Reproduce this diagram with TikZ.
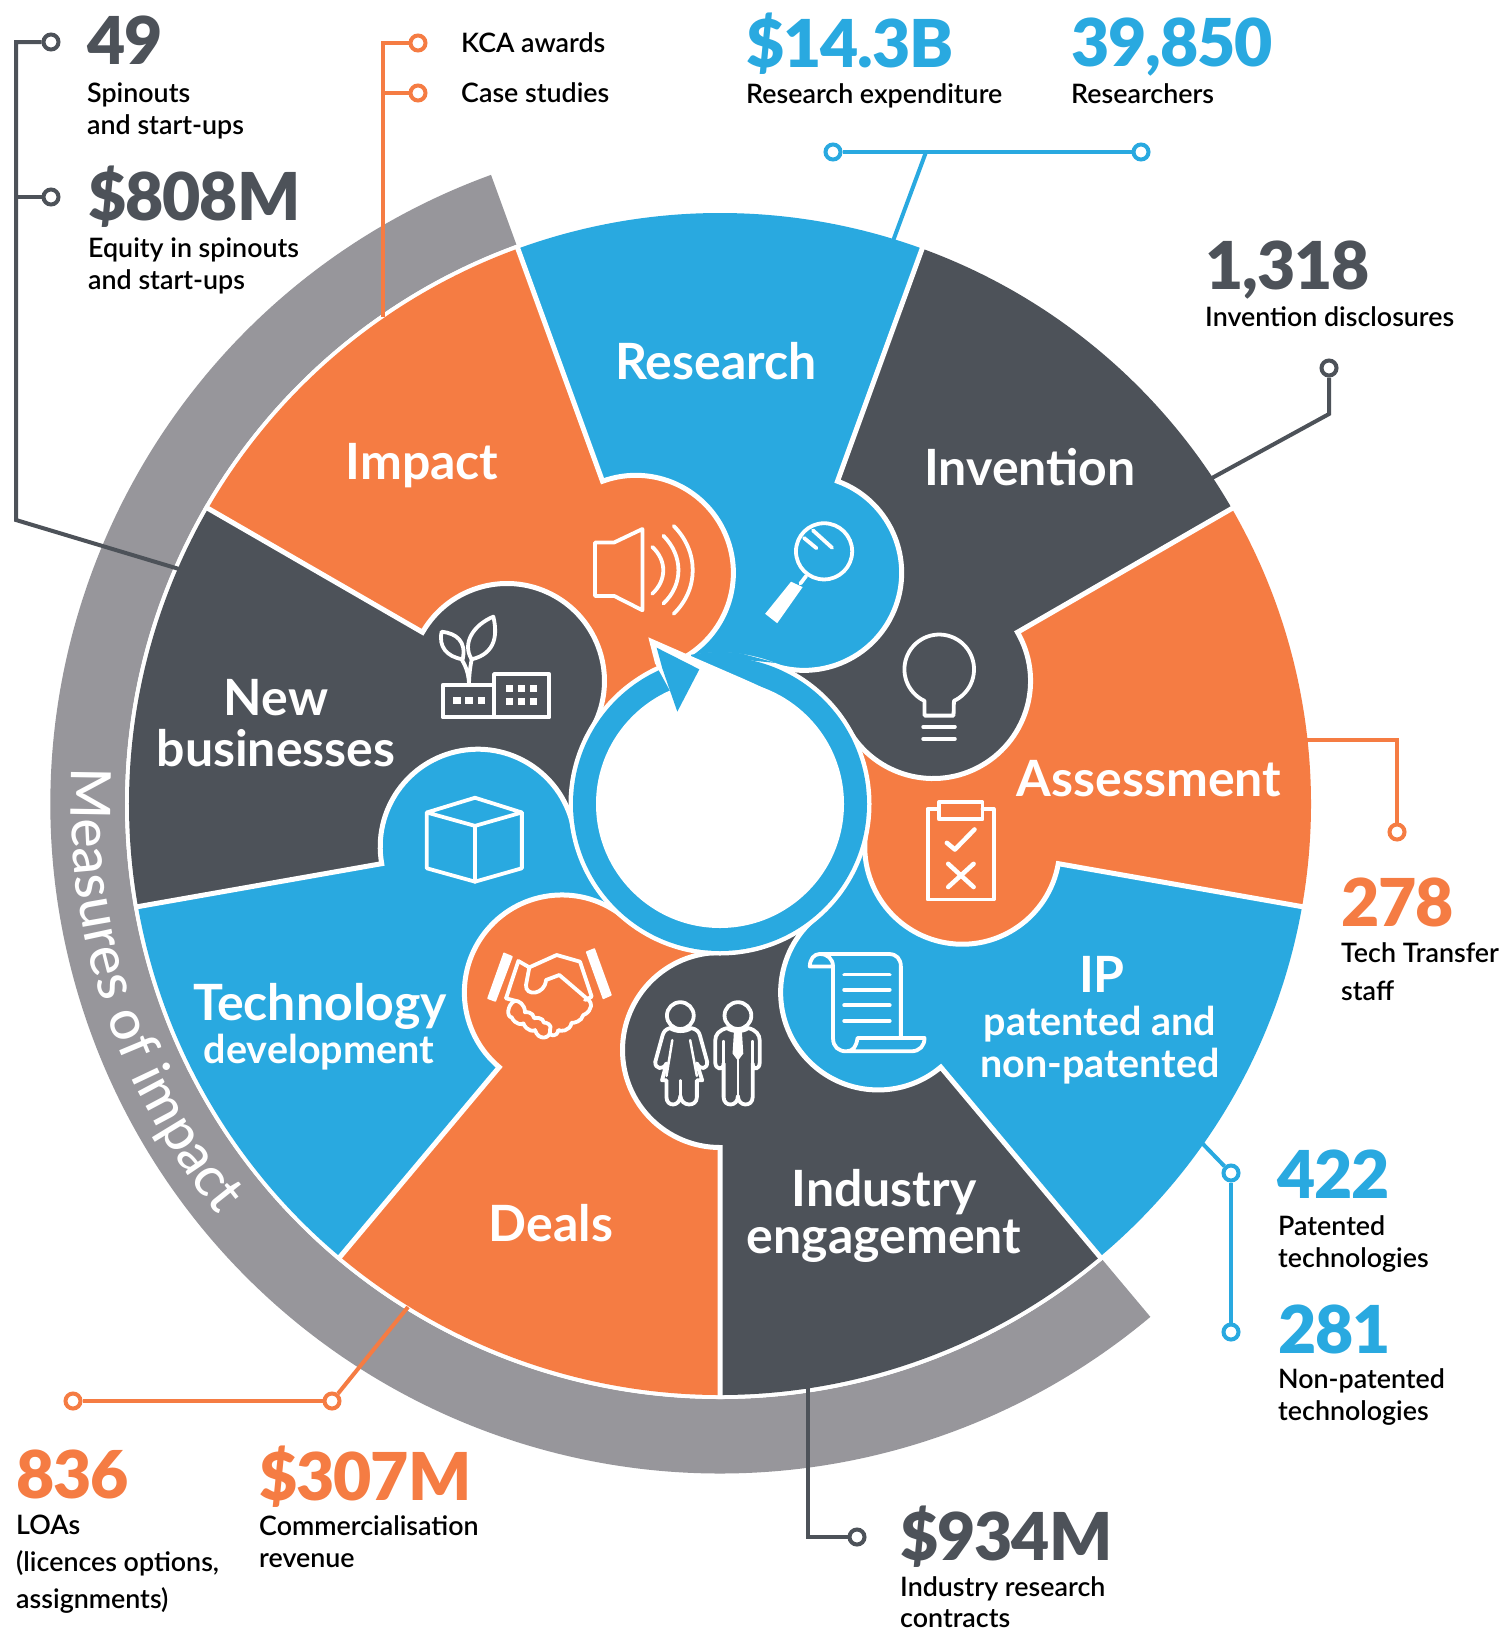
\documentclass[tikz,border=0pt]{standalone}
\usepackage{fontspec}
\setmainfont{Lato}
\newfontfamily\fblack[LetterSpace=-1.6]{Lato Black}
\newfontfamily\fmed{Lato Medium}
\newfontfamily\fsemi{Lato Semibold}
\newfontfamily\fbold{Lato Bold}
\usetikzlibrary{decorations.text}
\definecolor{cblue}{HTML}{29A9E0}
\definecolor{corange}{HTML}{F57C43}
\definecolor{cdark}{HTML}{4D5259}
\definecolor{cgray}{HTML}{97969B}
\newcommand\blk[3][l]{{\def\arraystretch{#2}\begin{tabular}[t]{@{}#1@{}}#3\end{tabular}}}
\tikzset{
  num/.style={anchor=base west,inner sep=0pt,font=\fblack\fontsize{66}{70}\selectfont},
  small/.style={anchor=base west,inner sep=0pt,text=black,font=\fsemi\fontsize{26.8}{30}\selectfont},
  big/.style={anchor=base,inner sep=0pt,text=white,font=\fbold\fontsize{50}{50}\selectfont},
  mid/.style={anchor=base,inner sep=0pt,text=white,font=\fbold\fontsize{39.5}{40}\selectfont},
  dot/.style={circle,draw=#1,fill=white,line width=4pt,minimum size=15pt,inner sep=0pt},
  conn/.style={draw=#1,line width=4pt,line join=miter},
  icon/.style={draw=white,line width=3.8pt,line join=round,line cap=round},
  iconb/.style={fill=white,draw=none}
}
\begin{document}
\begin{tikzpicture}[x=1pt,y=-1pt]
\useasboundingbox (0,0) rectangle (1502,1630);
\fill[white] (0,0) rectangle (1502,1630);
% ---------- wheel
\begin{scope}[shift={(720,804)},x=1pt,y=1pt]
  \fill[cgray] (110:669.5) arc[start angle=110,end angle=310,radius=669.5] -- (310:595) arc[start angle=310,end angle=110,radius=595] -- cycle;
  \fill[white] (0,0) circle[radius=595];
  \foreach \th/\col in {70/cblue,30/cdark,-10/corange,-50/cblue,-90/cdark,-130/corange,-170/cblue,150/cdark,110/corange}{
    \fill[\col] (0,0) -- (\th:591) arc[start angle=\th,delta angle=40,radius=591] -- cycle;
  }
  \foreach \th/\col in {70/cblue,30/cdark,-10/corange,-50/cblue,-90/cdark,-130/corange,-170/cblue,150/cdark,110/corange}{
    \fill[\col] (\th:345) arc[start angle=\th,delta angle=-180,radius=99] -- ({\th+2}:147) -- ({\th+1}:345) -- cycle;
    \draw[white,line width=5pt,line join=miter] (\th:595) -- (\th:343.5) arc[start angle=\th,delta angle=-180,radius=97.5];
  }
  \fill[white] (0,0) circle[radius=151.5];
  \fill[cblue] (82:146) arc[start angle=82,end angle=101,radius=146] -- (101:152) arc[start angle=101,end angle=82,radius=152] -- (68:152) -- cycle;
  \fill[cblue] (0,0) circle[radius=147];
  \fill[white] (0,0) circle[radius=124];
  % curved title on the grey band
  \path[decorate,decoration={text along path,text color=white,text align=left,
    text={|\fmed\fontsize{55.5}{56}\selectfont|Measures of impact}}]
    (176.8:649) arc[start angle=176.8,end angle=232,radius=649];
\end{scope}
% ---------- arrow
\begin{scope}[shift={(600,600)},x=0.3333pt,y=-0.3333pt]
  \fill[white] (165,190) -- (145,112) -- (275,169) -- (420,232) .. controls (470,254) and (510,272) .. (552,296) -- (360,612) -- (210,272) -- cycle;
  \fill[cblue] (170,143) -- (298,208) -- (232,335) -- (210,272) -- (187,205) -- cycle;
\end{scope}
% ---------- icons (first group in 700px crop coordinates)
\begin{scope}[shift={(400,500)},x=0.4464pt,y=-0.4464pt]
  % speaker
  \draw[icon] (437,95) -- (480,95) -- (543,65) -- (543,247) -- (480,215) -- (437,215) -- cycle;
  \draw[icon] (565,105) .. controls (598,135) and (598,180) .. (565,210);
  \draw[icon] (590,80) .. controls (635,125) and (635,190) .. (590,232);
  \draw[icon] (613,58) .. controls (670,115) and (670,200) .. (613,255);
  % magnifier
  \draw[icon] (950,115) circle[radius=28.1pt];
  \draw[icon] (905,85) -- (933,108);
  \draw[icon] (925,68) -- (968,107);
  \draw[icon] (910,170) -- (897,187);
  \fill[iconb] (876,183) -- (902,195) -- (845,276) -- (818,255) -- cycle;
  % bulb
  \draw[icon] (1175,483) -- (1175,450) arc[start angle=245,delta angle=-310,radius=34.8pt] -- (1240,483) -- cycle;
  \draw[icon] (1172,508) -- (1243,508);
  \draw[icon] (1172,535) -- (1243,535);
  % clipboard
  \draw[icon] (1207,692) -- (1182,692) -- (1182,895) -- (1330,895) -- (1330,692) -- (1305,692);
  \draw[icon] (1207,677) rectangle (1305,715);
  \draw[icon,line width=4.5pt] (1225,768) -- (1243,783) -- (1287,738);
  \draw[icon,line width=4.5pt] (1228,815) -- (1285,867) (1285,815) -- (1228,867);
  % scroll
  \draw[icon] (940,1017) -- (1095,1017) .. controls (1112,1017) and (1122,1028) .. (1122,1045) -- (1122,1205);
  \draw[icon] (918,1045) .. controls (918,1028) and (928,1017) .. (940,1017) .. controls (958,1017) and (970,1028) .. (970,1045) -- cycle;
  \draw[icon] (970,1045) -- (970,1205) .. controls (970,1225) and (982,1235) .. (1000,1235) -- (1145,1235) .. controls (1165,1235) and (1175,1222) .. (1175,1205) -- (1025,1205) .. controls (1022,1225) and (1015,1235) .. (1000,1235);
  \foreach \yy in {1063,1097,1132,1167}{\draw[icon] (995,\yy) -- (1097,\yy);}
  % box
  \draw[icon] (60,700) -- (168,667) -- (273,700) -- (168,730) -- cycle;
  \draw[icon] (60,700) -- (60,825) -- (168,855) -- (273,825) -- (273,700);
  \draw[icon] (168,730) -- (168,855);
  % woman
  \draw[icon] (628,1155) circle[radius=13.4pt];
  \draw[icon] (605,1183) .. controls (595,1185) and (590,1192) .. (588,1200) -- (572,1258) .. controls (570,1275) and (590,1278) .. (597,1262) -- (587,1300) -- (597,1300) -- (597,1338) .. controls (597,1360) and (627,1360) .. (628,1335) .. controls (630,1360) and (665,1360) .. (665,1338) -- (665,1300) -- (677,1300) -- (665,1262) .. controls (672,1278) and (690,1275) .. (688,1258) -- (672,1200) .. controls (670,1192) and (665,1185) .. (652,1183) .. controls (640,1192) and (618,1192) .. (605,1183);
  \draw[icon,line width=2.5pt] (610,1210) -- (597,1290) (650,1210) -- (665,1290);
  \draw[icon,line width=2.5pt] (628,1300) -- (628,1335);
  % man
  \draw[icon] (757,1155) circle[radius=13.4pt];
  \draw[icon] (733,1183) .. controls (715,1187) and (706,1197) .. (706,1212) -- (706,1258) .. controls (706,1278) and (725,1278) .. (725,1262) -- (725,1338) .. controls (725,1360) and (757,1360) .. (757,1335) .. controls (757,1360) and (790,1360) .. (790,1338) -- (790,1262) .. controls (790,1278) and (806,1278) .. (806,1258) -- (806,1212) .. controls (806,1197) and (797,1187) .. (780,1183) .. controls (768,1192) and (745,1192) .. (733,1183);
  \draw[icon,line width=2.5pt] (725,1212) -- (725,1262) (790,1212) -- (790,1262) (757,1255) -- (757,1335);
  \fill[iconb] (748,1192) -- (766,1192) -- (769,1240) -- (757,1256) -- (745,1240) -- cycle;
\end{scope}
% handshake
\begin{scope}[shift={(470,930)},x=0.3333pt,y=-0.3333pt]
  \fill[iconb,draw=white,line width=1.5pt,line join=round] (102,70) -- (126,80) -- (76,213) -- (54,205) -- cycle;
  \fill[iconb,draw=white,line width=1.5pt,line join=round] (350,66) -- (373,57) -- (423,195) -- (400,205) -- cycle;
  \draw[icon] (108,205) -- (145,93) -- (178,112) -- (260,75) -- (330,95) -- (365,200) -- (345,210);
  \draw[icon] (178,112) -- (168,165) .. controls (165,200) and (225,195) .. (228,150) -- (268,135) -- (358,212) .. controls (375,235) and (345,255) .. (340,255) .. controls (335,275) and (310,280) .. (305,278) .. controls (300,305) and (270,305) .. (265,300) .. controls (260,325) and (240,315) .. (238,310);
  \draw[icon] (108,205) -- (135,212) .. controls (110,225) and (110,262) .. (125,262) .. controls (135,285) and (160,285) .. (160,280) .. controls (170,305) and (195,305) .. (195,300) .. controls (205,335) and (245,325) .. (240,300) .. controls (250,285) and (225,275) .. (222,278) .. controls (220,262) and (195,262) .. (193,265) .. controls (190,245) and (165,245) .. (165,247) .. controls (165,222) and (145,212) .. (135,212);
\end{scope}
% plant and factory
\begin{scope}[shift={(420,600)},x=0.3333pt,y=-0.3333pt]
  \draw[icon] (68,255) rectangle (222,352);
  \draw[icon] (222,222) rectangle (388,352);
  \foreach \xa in {100,136,174}{\fill[iconb] (\xa,292) rectangle ++(22,20);}
  \foreach \xa in {257,293,331}{\fill[iconb] (\xa,256) rectangle ++(21,20);\fill[iconb] (\xa,295) rectangle ++(21,21);}
  \draw[icon] (147,250) .. controls (145,215) and (135,195) .. (125,178);
  \draw[icon] (147,250) .. controls (148,215) and (152,195) .. (155,178);
  \draw[icon] (65,95) .. controls (110,100) and (140,125) .. (128,178) .. controls (80,170) and (55,140) .. (65,95) -- cycle;
  \draw[icon] (220,50) .. controls (160,75) and (125,130) .. (155,178) .. controls (230,160) and (232,100) .. (220,50) -- cycle;
\end{scope}
% ---------- sector titles
\node[big] (tResearch) at (716,379) {Research};
\node[big] (tImpact) at (422,479) {Impact};
\node[big] (tInvention) at (1030,485) {Invention};
\node[big] (tAssess) at (1149,796) {Assessment};
\node[big] (tIP) at (1102,992) {IP};
\node[mid] (tIPs) at (1100,1035) {\blk[c]{1.07}{patented and\\non-patented}};
\node[big] (tInd) at (884,1206) {\blk[c]{0.95}{Industry\\engagement}};
\node[big] (tDeals) at (551,1241) {Deals};
\node[big] (tTech) at (320,1020) {Technology};
\node[mid] (tDev) at (319,1063) {development};
\node[big] (tNew) at (276,715) {\blk[c]{0.94}{New\\businesses}};
% ---------- figures
\node[num,text=cdark] (n49) at (87,64) {49};
\node[small] (l49) at (87,102) {\blk{1.07}{Spinouts\\and start-ups}};
\node[num,text=cdark] (n808) at (88,220) {\$808M};
\node[small] (l808) at (88,257) {\blk{1.07}{Equity in spinouts\\and start-ups}};
\node[small] (lkca) at (461,52) {KCA awards};
\node[small] (lcase) at (461,102) {Case studies};
\node[num,text=cblue] (n143) at (746,67) {\$14.3B};
\node[small] (l143) at (746,103) {Research expenditure};
\node[num,text=cblue] (n398) at (1071,66) {39,850};
\node[small] (l398) at (1071,103) {Researchers};
\node[num,text=cdark] (n1318) at (1205,289) {1,318};
\node[small] (l1318) at (1205,326) {Invention disclosures};
\node[num,text=corange] (n278) at (1341,926) {278};
\node[small] (l278) at (1341,962) {\blk{1.28}{Tech Transfer\\staff}};
\node[num,text=cblue] (n422) at (1277,1198) {422};
\node[small] (l422) at (1278,1235) {\blk{1.07}{Patented\\technologies}};
\node[num,text=cblue] (n281) at (1278,1353) {281};
\node[small] (l281) at (1278,1388) {\blk{1.07}{Non-patented\\technologies}};
\node[num,text=cdark] (n934) at (900,1560) {\$934M};
\node[small] (l934) at (900,1596) {\blk{1.05}{Industry research\\contracts}};
\node[num,text=corange] (n836) at (16,1498) {836};
\node[small] (l836) at (16,1534) {\blk{1.24}{LOAs\\(licences options,\\assignments)}};
\node[num,text=corange] (n307) at (259,1500) {\$307M};
\node[small] (l307) at (259,1535) {\blk{1.07}{Commercialisation\\revenue}};
% ---------- connectors
\node[dot=cdark] (d1) at (51,42) {};
\node[dot=cdark] (d2) at (51,197) {};
\coordinate (d1a) at (16,42); \coordinate (d1b) at (16,520); \coordinate (d1c) at (179,569); \coordinate (d2a) at (16,197);
\draw[conn=cdark] (d1) -- (d1a) -- (d1b) -- (d1c);
\draw[conn=cdark] (d2) -- (d2a);
\node[dot=corange] (o1) at (418,43) {};
\node[dot=corange] (o2) at (418,93) {};
\coordinate (o1a) at (383,43); \coordinate (o1b) at (383,317); \coordinate (o2a) at (383,93);
\draw[conn=corange] (o1) -- (o1a) -- (o1b);
\draw[conn=corange] (o2) -- (o2a);
\node[dot=cblue] (b1) at (833,152) {};
\node[dot=cblue] (b2) at (1141,152) {};
\coordinate (b1a) at (926,152); \coordinate (b1b) at (893,241);
\draw[conn=cblue] (b1) -- (b2);
\draw[conn=cblue] (b1a) -- (b1b);
\node[dot=cdark] (d3) at (1329,368) {};
\coordinate (d3a) at (1329,414); \coordinate (d3b) at (1212,478);
\draw[conn=cdark] (d3) -- (d3a) -- (d3b);
\node[dot=corange] (o3) at (1397,832) {};
\coordinate (o3a) at (1397,740); \coordinate (o3b) at (1306,740);
\draw[conn=corange] (o3) -- (o3a) -- (o3b);
\node[dot=cblue] (b3) at (1231,1173) {};
\node[dot=cblue] (b4) at (1231,1332) {};
\coordinate (b3a) at (1202,1143);
\draw[conn=cblue] (b3) -- (b3a);
\draw[conn=cblue] (b3) -- (b4);
\node[dot=cdark] (d4) at (857,1537) {};
\coordinate (d4a) at (808,1537); \coordinate (d4b) at (808,1386);
\draw[conn=cdark] (d4) -- (d4a) -- (d4b);
\node[dot=corange] (o4) at (332,1401) {};
\node[dot=corange] (o5) at (73,1401) {};
\coordinate (o4a) at (408,1307);
\draw[conn=corange] (o4) -- (o4a);
\draw[conn=corange] (o4) -- (o5);
\end{tikzpicture}
\end{document}
